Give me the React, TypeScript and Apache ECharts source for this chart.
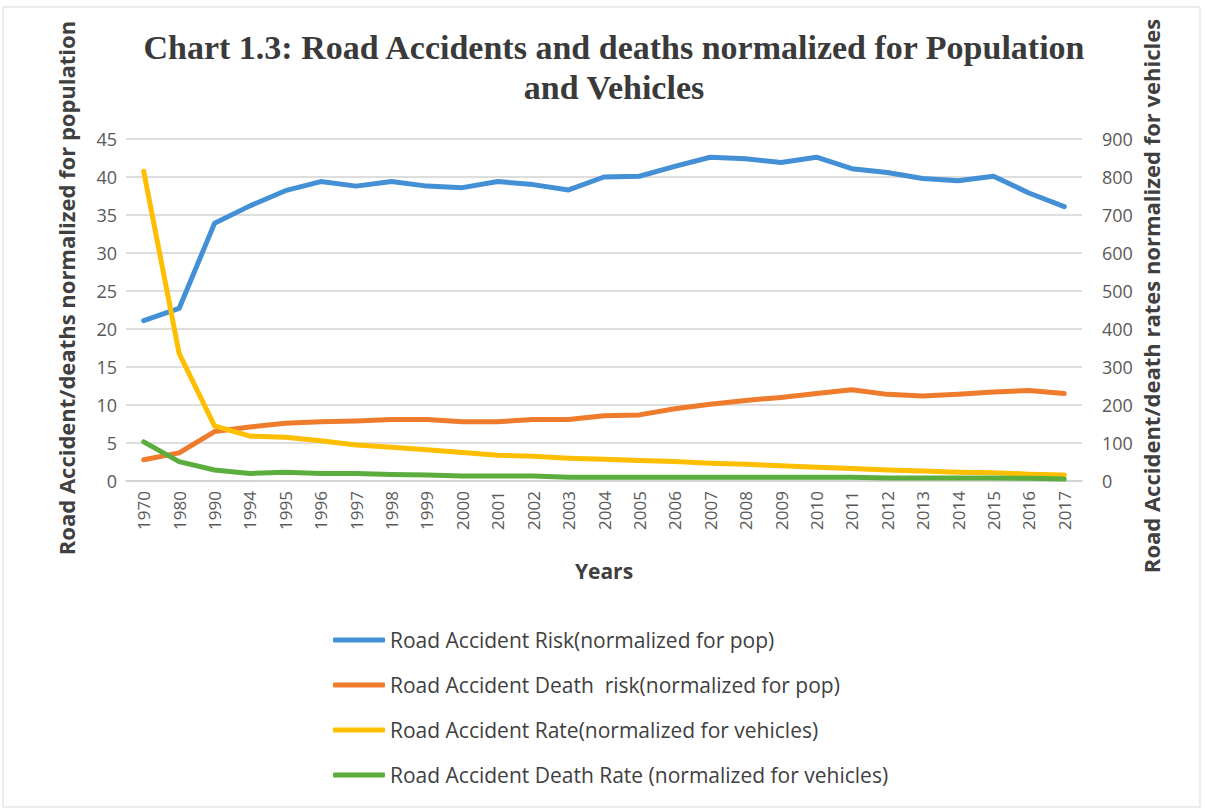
import React, { useEffect, useRef } from "react";
import * as echarts from "echarts";

const years = ["1970","1980","1990","1994","1995","1996","1997","1998","1999","2000","2001","2002","2003","2004","2005","2006","2007","2008","2009","2010","2011","2012","2013","2014","2015","2016","2017"];

const accidentRiskPop = [21.1,22.7,33.9,36.2,38.2,39.4,38.8,39.4,38.8,38.6,39.4,39.0,38.3,40.0,40.1,41.4,42.6,42.4,41.9,42.6,41.1,40.6,39.8,39.5,40.1,37.9,36.1];
const deathRiskPop = [2.8,3.7,6.5,7.1,7.6,7.8,7.9,8.1,8.1,7.8,7.8,8.1,8.1,8.6,8.7,9.5,10.1,10.6,11.0,11.5,12.0,11.4,11.2,11.4,11.7,11.9,11.5];
const accidentRateVeh = [815,336,145,118,115,106,95,89,82,75,68,65,60,57,54,51,47,44,40,36,33,29,26,23,22,18,16];
const deathRateVeh = [103,51,29,20,23,20,20,17,16,13,13,13,10,10,10,10,10,10,10,10,10,8,8,8,8,7,5];

const seriesNames = [
  "Road Accident Risk(normalized for pop)",
  "Road Accident Death  risk(normalized for pop)",
  "Road Accident Rate(normalized for vehicles)",
  "Road Accident Death Rate (normalized for vehicles)",
];
const colors = ["#4490D6", "#EF7B2D", "#FFBE00", "#5BAE3E"];

const leftTicks = { min: 0, max: 45, interval: 5 };
const rightTicks = { min: 0, max: 900, interval: 100 };

export default function App() {
  const ref = useRef<HTMLDivElement>(null);
  useEffect(() => {
    if (!ref.current) return;
    const chart = echarts.init(ref.current, undefined, { renderer: "svg" });
    const sans = "'Open Sans', 'Noto Sans', sans-serif";
    const mk = (i: number, data: number[], yAxisIndex: number) => ({
      name: seriesNames[i],
      type: "line",
      data,
      yAxisIndex,
      symbol: "none",
      lineStyle: { width: 5, color: colors[i], cap: "round", join: "round" },
      itemStyle: { color: colors[i] },
    });
    chart.setOption({
      animation: false,
      backgroundColor: "#ffffff",
      grid: { left: 126, right: 128, top: 139, bottom: 329, containLabel: false },
      xAxis: {
        type: "category",
        data: years,
        boundaryGap: true,
        axisLine: { show: true, lineStyle: { color: "#D0D0D0", width: 1.5 } },
        axisTick: { show: false },
        axisLabel: { rotate: 90, margin: 10, fontSize: 17, color: "#595959", fontFamily: sans, interval: 0 },
      },
      yAxis: [
        {
          type: "value",
          ...leftTicks,
          position: "left",
          axisLine: { show: false },
          axisTick: { show: false },
          splitLine: { lineStyle: { color: "#D3D3D3", width: 1.5 } },
          axisLabel: { fontSize: 18, color: "#595959", fontFamily: sans, margin: 9 },
        },
        {
          type: "value",
          ...rightTicks,
          position: "right",
          axisLine: { show: false },
          axisTick: { show: false },
          splitLine: { show: false },
          axisLabel: { fontSize: 18, color: "#595959", fontFamily: sans, margin: 20 },
        },
      ],
      legend: {
        orient: "vertical",
        left: 328,
        top: 622,
        icon: "roundRect",
        itemWidth: 52,
        itemHeight: 5,
        itemGap: 19,
        data: seriesNames,
        textStyle: { fontSize: 21, color: "#404040", fontFamily: sans, lineHeight: 26 },
      },
      graphic: [
        {
          type: "rect",
          shape: { x: 3, y: 7, width: 1197, height: 800 },
          style: { fill: "none", stroke: "#D9D9D9", lineWidth: 1 },
          silent: true,
        },
        {
          type: "text",
          x: 614,
          y: 27,
          style: {
            text: "Chart 1.3: Road Accidents and deaths normalized for Population\nand Vehicles",
            align: "center",
            verticalAlign: "top",
            font: "bold 34px 'Liberation Serif', 'DejaVu Serif', serif",
            lineHeight: 40,
            fill: "#3A3A3A",
          },
        },
        {
          type: "text",
          x: 66,
          y: 288,
          rotation: Math.PI / 2,
          style: {
            text: "Road Accident/deaths normalized for population",
            align: "center",
            verticalAlign: "middle",
            font: "bold 22px " + sans,
            fill: "#404040",
          },
        },
        {
          type: "text",
          x: 1151,
          y: 296,
          rotation: Math.PI / 2,
          style: {
            text: "Road Accident/death rates normalized for vehicles",
            align: "center",
            verticalAlign: "middle",
            font: "bold 22px " + sans,
            fill: "#404040",
          },
        },
        {
          type: "text",
          x: 604,
          y: 571,
          style: {
            text: "Years",
            align: "center",
            verticalAlign: "middle",
            font: "bold 21px " + sans,
            fill: "#404040",
          },
        },
      ],
      series: [
        mk(0, accidentRiskPop, 0),
        mk(1, deathRiskPop, 0),
        mk(2, accidentRateVeh, 1),
        mk(3, deathRateVeh, 1),
      ],
    });
    return () => chart.dispose();
  }, []);
  return (
    <div
      ref={ref}
      style={{ position: "absolute", left: 0, top: 0, width: 1210, height: 810 }}
    />
  );
}
